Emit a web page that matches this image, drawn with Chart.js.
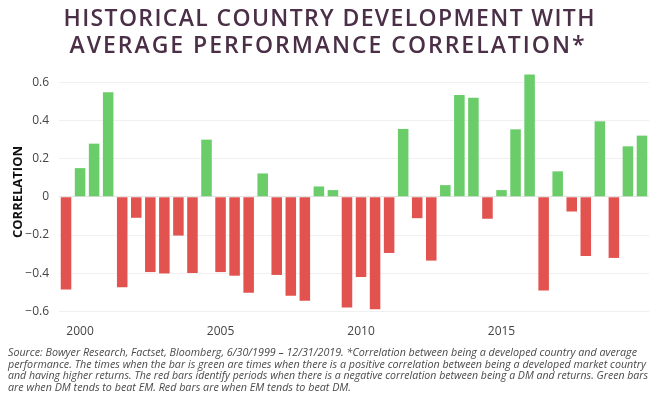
<!DOCTYPE html>
<html>
<head>
<meta charset="utf-8">
<script src="https://cdn.jsdelivr.net/npm/chart.js@4.4.1/dist/chart.umd.min.js"></script>
<style>
  html, body { margin: 0; padding: 0; background: #fff; }
  #wrap { position: relative; width: 665px; height: 399px; overflow: hidden; }
  #wrap canvas { position: absolute; left: 0; top: 0; }
  .ttl { position: absolute; white-space: nowrap; font-family: "Open Sans"; font-weight: 600;
         font-size: 23px; line-height: 23px; color: #4a2f47; }
  .note { position: absolute; left: 8px; white-space: nowrap; font-family: "Open Sans"; font-style: italic;
          font-size: 10.5px; line-height: 11px; color: #4a4a4a; transform-origin: 0 0; }
</style>
</head>
<body>
<div id="wrap">
  <canvas id="grafico" width="665" height="399"></canvas>
  <span class="ttl" data-w="531" data-c="329" style="top:6px">HISTORICAL COUNTRY DEVELOPMENT WITH</span>
  <span class="ttl" data-w="515" data-c="327" style="top:32.7px">AVERAGE PERFORMANCE CORRELATION*</span>
  <span class="note" data-w="629" style="top:347px">Source: Bowyer Research, Factset, Bloomberg, 6/30/1999 – 12/31/2019. *Correlation between being a developed country and average</span>
  <span class="note" data-w="638" style="top:358.5px">performance. The times when the bar is green are times when there is a positive correlation between being a developed market country</span>
  <span class="note" data-w="640" style="top:370px">and having higher returns. The red bars identify periods when there is a negative correlation between being a DM and returns. Green bars</span>
  <span class="note" data-w="343" style="top:381.5px">are when DM tends to beat EM. Red bars are when EM tends to beat DM.</span>
</div>
<script>
// periodos semestrales 6/30/1999 - 12/31/2019
const periodos = [
  '6/30/1999', '12/31/1999', '6/30/2000', '12/31/2000', '6/30/2001', '12/31/2001',
  '6/30/2002', '12/31/2002', '6/30/2003', '12/31/2003', '6/30/2004', '12/31/2004',
  '6/30/2005', '12/31/2005', '6/30/2006', '12/31/2006', '6/30/2007', '12/31/2007',
  '6/30/2008', '12/31/2008', '6/30/2009', '12/31/2009', '6/30/2010', '12/31/2010',
  '6/30/2011', '12/31/2011', '6/30/2012', '12/31/2012', '6/30/2013', '12/31/2013',
  '6/30/2014', '12/31/2014', '6/30/2015', '12/31/2015', '6/30/2016', '12/31/2016',
  '6/30/2017', '12/31/2017', '6/30/2018', '12/31/2018', '6/30/2019', '12/31/2019'
];
const correlacion = [
  -0.485, 0.150, 0.278, 0.547, -0.474, -0.110, -0.394, -0.401, -0.203, -0.399,
  0.299, -0.394, -0.413, -0.502, 0.122, -0.409, -0.518, -0.544, 0.054, 0.035,
  -0.579, -0.420, -0.589, -0.294, 0.355, -0.112, -0.334, 0.061, 0.532, 0.518,
  -0.115, 0.035, 0.353, 0.640, -0.490, 0.133, -0.077, -0.310, 0.395, -0.320,
  0.264, 0.320
];
// etiquetas del eje x (solo en estos periodos)
const etiquetasX = { '12/31/1999': '2000', '12/31/2004': '2005', '12/31/2009': '2010', '12/31/2014': '2015' };
const ticksY = [-0.6, -0.4, -0.2, 0, 0.2, 0.4, 0.6];

const VERDE = '#6bcd6a', ROJO = '#e2534f';

// ajustar textos a su ancho
document.querySelectorAll('.ttl').forEach(el => {
  const w0 = el.getBoundingClientRect().width;
  const n = el.textContent.length;
  const ls = (parseFloat(el.dataset.w) - w0) / (n - 1);
  el.style.letterSpacing = ls + 'px';
  el.style.left = (parseFloat(el.dataset.c) - parseFloat(el.dataset.w) / 2) + 'px';
});
document.querySelectorAll('.note').forEach(el => {
  const w0 = el.getBoundingClientRect().width;
  el.style.transform = 'scaleX(' + (parseFloat(el.dataset.w) / w0) + ')';
});

Chart.defaults.font.family = '"Open Sans"';
new Chart(document.getElementById('grafico'), {
  type: 'bar',
  data: {
    labels: periodos,
    datasets: [{
      data: correlacion,
      backgroundColor: correlacion.map(v => v >= 0 ? VERDE : ROJO),
      barPercentage: 0.75,
      categoryPercentage: 1
    }]
  },
  options: {
    responsive: false,
    animation: false,
    layout: { padding: { left: 0, right: 16, top: 63, bottom: 56 } },
    plugins: { legend: { display: false }, tooltip: { enabled: false } },
    scales: {
      x: {
        grid: { display: false, drawTicks: false },
        border: { display: false },
        ticks: {
          autoSkip: false, maxRotation: 0, padding: 3,
          color: '#444', font: { size: 12 },
          callback: (v, i) => etiquetasX[periodos[i]] || ''
        },
        afterFit: s => { s.height = 22; }
      },
      y: {
        min: -0.65, max: 0.70,
        afterBuildTicks: s => { s.ticks = ticksY.map(v => ({ value: v })); },
        grid: {
          drawTicks: false,
          color: c => c.tick && c.tick.value === 0 ? '#e3e3e3' : '#f0f0f0'
        },
        border: { display: false },
        ticks: {
          padding: 10, color: '#444', font: { size: 12 },
          callback: v => Math.abs(v) < 1e-9 ? '0' : v.toFixed(1).replace('-', '\u2212')
        },
        title: {
          display: true, text: 'CORRELATION', color: '#111',
          font: { size: 13, weight: 'bold' }, padding: { top: 10, bottom: 0 }
        },
        afterFit: s => { s.width = 59; }
      }
    }
  }
});
</script>
</body>
</html>
